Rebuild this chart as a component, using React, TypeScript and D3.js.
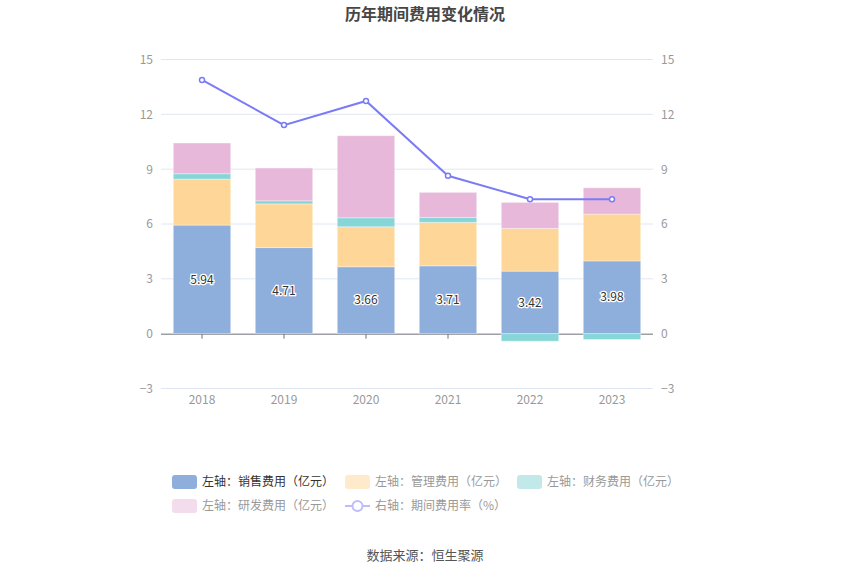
import React, {useEffect, useRef} from "react";
import * as d3 from "d3";

const years = ["2018", "2019", "2020", "2021", "2022", "2023"]
const salesCost = [5.94, 4.71, 3.66, 3.71, 3.42, 3.98]
const adminCost = [2.52, 2.39, 2.19, 2.38, 2.34, 2.56]
const financeCost = [0.29, 0.17, 0.49, 0.27, -0.41, -0.32]
const rdCost = [1.68, 1.79, 4.49, 1.37, 1.42, 1.44]
const expenseRate = [13.88, 11.41, 12.73, 8.64, 7.36, 7.36]
const axisTicks = [-3, 0, 3, 6, 9, 12, 15]

const seriesKeys = ["sales", "admin", "finance", "rd"]
const seriesNames = ["左轴：销售费用（亿元）", "左轴：管理费用（亿元）", "左轴：财务费用（亿元）", "左轴：研发费用（亿元）"]
const colors: Record<string, string> = {sales: "#8eaedb", admin: "#fed798", finance: "#86d5d7", rd: "#e7b8d9"}
const fadedColors = ["#8eaedb", "#ffebcb", "#c2e9ea", "#f3dcec"]
const lineColor = "#7b7cf5"
const font = "'Noto Sans CJK SC', 'Noto Sans', sans-serif"

const App = () => {
    const chartRef = useRef(null)

    useEffect(() => {
        const svg = d3.select(chartRef.current)
        svg.selectAll("*").remove()

        const left = 161, right = 653
        const x = d3.scaleBand().domain(years).range([left, right])
        const y = d3.scaleLinear().domain([-3, 15]).range([388.5, 59.5])
        const barW = x.bandwidth() * 0.7

        // сетка
        svg.append("g").selectAll("line").data(axisTicks.filter(t => t !== 0)).join("line")
            .attr("x1", left).attr("x2", right)
            .attr("y1", d => y(d)).attr("y2", d => y(d))
            .attr("stroke", "#e0e6f1")

        const leftAxis = d3.axisLeft(y).tickValues(axisTicks).tickSize(0).tickPadding(8)
        const gl = svg.append("g").attr("transform", `translate(${left},0)`).call(leftAxis)
        const rightAxis = d3.axisRight(y).tickValues(axisTicks).tickSize(0).tickPadding(8)
        const gr = svg.append("g").attr("transform", `translate(${right},0)`).call(rightAxis)
        for (const g of [gl, gr]) {
            g.select(".domain").remove()
            g.selectAll("text").attr("fill", "#999").style("font-size", "12px").style("font-family", font)
        }

        // ось x (под столбцами)
        const xAxis = d3.axisBottom(x).tickSize(5).tickPadding(10)
        const gx = svg.append("g").attr("transform", `translate(0,${y(0)})`).call(xAxis)
        gx.select(".domain").attr("stroke", "#6e7079").attr("d", `M${left},0.5H${right}`)
        gx.selectAll("line").attr("stroke", "#6e7079")
        gx.selectAll("text").attr("fill", "#999").style("font-size", "12px").style("font-family", font)
            .attr("dy", "0.71em").attr("y", 62)

        const rows = years.map((yr, i) => ({
            year: yr, sales: salesCost[i], admin: adminCost[i], finance: financeCost[i], rd: rdCost[i]
        }))
        const stacked = d3.stack<any>().keys(seriesKeys).offset(d3.stackOffsetDiverging)(rows)

        svg.append("g").selectAll("g").data(stacked).join("g")
            .attr("fill", d => colors[d.key])
            .selectAll("rect").data(d => d).join("rect")
            .attr("x", d => (x(d.data.year) as number) + (x.bandwidth() - barW) / 2)
            .attr("width", barW)
            .attr("y", d => y(Math.max(d[0], d[1])))
            .attr("height", d => Math.abs(y(d[0]) - y(d[1])))
            .attr("stroke", "#fff").attr("stroke-opacity", 0.35).attr("stroke-width", 1)

        // подписи
        svg.append("g").selectAll("text").data(salesCost).join("text")
            .attr("x", (d, i) => (x(years[i]) as number) + x.bandwidth() / 2)
            .attr("y", d => y(d / 2))
            .attr("dy", "0.35em").attr("text-anchor", "middle")
            .attr("fill", "#333").attr("stroke", "#fff").attr("stroke-width", 2.5)
            .attr("paint-order", "stroke")
            .style("font-size", "12px").style("font-family", font)
            .text(d => d.toFixed(2))

        const line = d3.line<number>()
            .x((d, i) => (x(years[i]) as number) + x.bandwidth() / 2)
            .y(d => y(d))
        svg.append("path").datum(expenseRate)
            .attr("d", line).attr("fill", "none").attr("stroke", lineColor).attr("stroke-width", 2)
        svg.append("g").selectAll("circle").data(expenseRate).join("circle")
            .attr("cx", (d, i) => (x(years[i]) as number) + x.bandwidth() / 2)
            .attr("cy", d => y(d)).attr("r", 2.5)
            .attr("fill", "#fff").attr("stroke", lineColor).attr("stroke-width", 1.5)

        // легенда
        const legendPos = [[172, 482], [345, 482], [517, 482], [172, 506]]
        const lg = svg.append("g")
        seriesNames.forEach((name, i) => {
            const [lx, ly] = legendPos[i]
            lg.append("rect").attr("x", lx).attr("y", ly - 7).attr("width", 25).attr("height", 14)
                .attr("rx", 3).attr("fill", fadedColors[i])
            lg.append("text").attr("x", lx + 30).attr("y", ly).attr("dy", "0.35em")
                .attr("fill", i === 0 ? "#333" : "#999").style("font-size", "12px").style("font-family", font)
                .text(name)
        })
        lg.append("line").attr("x1", 345).attr("x2", 370).attr("y1", 506).attr("y2", 506)
            .attr("stroke", "#bdbdfa").attr("stroke-width", 2)
        lg.append("circle").attr("cx", 357.5).attr("cy", 506).attr("r", 5)
            .attr("fill", "#fff").attr("stroke", "#bdbdfa").attr("stroke-width", 2)
        lg.append("text").attr("x", 375).attr("y", 506).attr("dy", "0.35em")
            .attr("fill", "#999").style("font-size", "12px").style("font-family", font)
            .text("右轴：期间费用率（%）")
    }, [])

    return (
        <svg width={850} height={575}
             style={{position: "absolute", left: 0, top: 0, background: "#fff"}}>
            <text x={425} y={14} dy="0.35em" textAnchor="middle" fill="#464646"
                  style={{fontSize: 16, fontWeight: "bold", fontFamily: font}}>历年期间费用变化情况</text>
            <g ref={chartRef}/>
            <text x={425} y={555} dy="0.35em" textAnchor="middle" fill="#555"
                  style={{fontSize: 13, fontFamily: font}}>数据来源：恒生聚源</text>
        </svg>
    );
};

export default App;
